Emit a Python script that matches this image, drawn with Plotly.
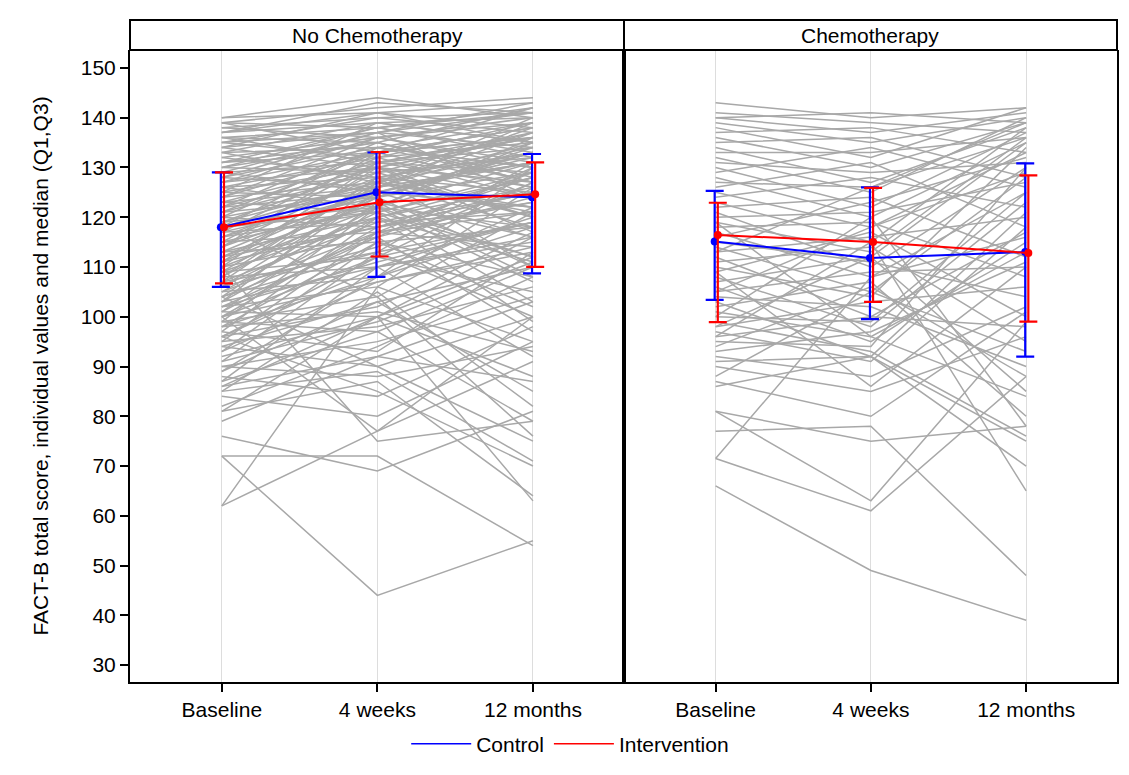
import plotly.graph_objects as go

timepoints = ["Baseline", "4 weeks", "12 months"]
panels = ["No Chemotherapy", "Chemotherapy"]

# ---- individual values, No Chemotherapy ----
nc_baseline = [
 140,140,139,139,138,138,137,137,136,136,
 135,135,134,134,133,133,132,132,131,131,
 130,130,129,129,128,128,127,127,126,126,
 125,125,124,124,123,123,122,122,121,121,
 120,120,119,119,118,118,117,117,116,116,
 115,115,114,114,113,113,112,112,111,111,
 110,110,109,109,108,108,107,107,106,106,
 105,105,104,104,103,103,102,102,101,101,
 100,100,99,99,98,98,97,97,96,96,
 95,95,94,93,92,91,90,90,89,88,
 87,87,86,85,85,84,82,81,79,76,
 72,72,62,62,81,139,137,136,135,134,
 133,131,130,129,128,127,126,125,124,123,
 122,121,120,119,118,117,116,115,114,113,
 112,111,110,109,108,107,106,105,104,103,
 102,101,100,99,98,96,94,93,91,89,
 86,110,100,96,118,104]
nc_week4 = [
 144,141,142,138,140,136,141,139,135,138,
 140,132,137,130,139,134,136,128,138,133,
 135,129,137,131,134,126,136,130,132,128,
 139,124,133,127,131,121,135,125,129,133,
 126,118,130,122,127,134,124,119,128,121,
 131,117,125,129,120,115,126,123,118,130,
 122,116,127,112,124,110,119,128,114,121,
 117,108,125,113,110,120,106,116,123,100,
 112,118,104,97,115,108,93,120,102,110,
 98,117,90,107,100,113,95,88,103,84,
 97,110,92,89,105,80,94,87,92,69,
 72,44,77,106,100,133,143,131,137,141,
 127,135,138,125,137,133,122,130,136,126,
 130,124,134,127,121,132,125,122,133,126,
 118,124,131,120,128,113,125,122,116,127,
 111,117,107,122,101,112,103,115,99,108,
 100,75,77,85,104,90]
nc_month12 = [
 140,143,144,142,141,139,138,140,142,133,
 137,139,141,136,135,130,140,134,132,138,
 128,137,134,126,139,131,130,136,124,133,
 135,129,138,122,134,128,127,132,120,136,
 131,125,127,135,118,130,133,121,125,129,
 137,114,122,132,126,118,135,116,128,124,
 112,130,121,119,134,115,125,110,127,103,
 123,118,131,100,120,111,126,97,108,116,
 105,125,121,110,102,130,113,99,117,92,
 106,121,100,114,88,119,104,94,110,98,
 79,116,103,71,82,95,108,64,87,81,
 54,55,100,95,63,136,141,129,143,135,
 138,127,141,133,124,142,136,120,131,139,
 117,133,127,140,112,135,122,131,126,137,
 123,110,136,128,120,131,116,107,124,133,
 119,129,113,118,93,127,85,108,111,122,
 112,79,91,70,76,75]

# ---- individual values, Chemotherapy ----
ch_baseline = [
 143,141,140,140,139,138,137,136,135,134,
 133,132,131,130,129,128,127,126,125,124,
 123,122,121,120,119,118,117,116,115,114,
 113,112,111,110,109,108,107,106,105,104,
 103,102,101,100,99,98,97,96,95,94,
 93,92,91,90,88,87,86,81,81,77,
 71.5,71.5,66,96,109,100,119,113,105,98]
ch_week4 = [
 140,139,141,137,135,132,138,130,136,127,
 133,125,129,122,134,120,126,131,118,128,
 115,124,110,121,113,119,108,123,111,105,
 116,100,114,104,117,98,112,95,109,102,
 92,107,96,99,93,103,91,100,94,106,
 97,88,92,85,105,80,92,63,75,78,
 61,108,49,115,86,120,96,126,118,112]
ch_month12 = [
 142,137,139,141,140,142,133,139,128,138,
 136,140,131,137,126,135,139,118,133,122,
 138,112,130,127,136,108,125,132,104,128,
 120,117,95,134,100,123,85,115,110,90,
 121,80,113,125,76,106,118,98,130,88,
 111,102,75,96,93,101,70,99,78,48,
 88,116,39,65,110,78,84,136,129,135]

# ---- medians and quartiles ----
nc_ctrl_med = [118.0, 125.0, 124.0]
nc_ctrl_q1 = [106.0, 108.0, 108.7]
nc_ctrl_q3 = [129.0, 133.0, 132.7]
nc_int_med = [118.0, 123.0, 124.6]
nc_int_q1 = [106.7, 112.1, 110.0]
nc_int_q3 = [129.0, 133.1, 131.0]

ch_ctrl_med = [115.1, 111.8, 113.0]
ch_ctrl_q1 = [103.4, 99.5, 92.0]
ch_ctrl_q3 = [125.3, 126.0, 130.8]
ch_int_med = [116.4, 115.0, 112.8]
ch_int_q1 = [98.9, 103.0, 99.0]
ch_int_q3 = [122.9, 125.9, 128.4]

FONT = "Liberation Sans, Arial, sans-serif"
FS = 21
GRAY = "#A8A8A8"
BLUE = "#0000FF"
RED = "#FF0000"
pos = list(range(len(timepoints)))

fig = go.Figure()


def spaghetti(b, w, m, xa, ya):
    xs, ys = [], []
    for vals in zip(b, w, m):
        xs += pos + [None]
        ys += list(vals) + [None]
    fig.add_trace(go.Scatter(x=xs, y=ys, mode="lines", xaxis=xa, yaxis=ya,
                             line=dict(color=GRAY, width=1.5),
                             hoverinfo="skip", showlegend=False))


def median_trace(med, q1, q3, color, shift, xa, ya):
    fig.add_trace(go.Scatter(
        x=[p + shift for p in pos], y=med, mode="lines+markers",
        xaxis=xa, yaxis=ya, showlegend=False,
        line=dict(color=color, width=2), marker=dict(color=color, size=8),
        error_y=dict(type="data", symmetric=False,
                     array=[h - c for h, c in zip(q3, med)],
                     arrayminus=[c - l for c, l in zip(med, q1)],
                     color=color, thickness=2.2, width=9)))


spaghetti(nc_baseline, nc_week4, nc_month12, "x", "y")
spaghetti(ch_baseline, ch_week4, ch_month12, "x2", "y2")
median_trace(nc_ctrl_med, nc_ctrl_q1, nc_ctrl_q3, BLUE, -0.006, "x", "y")
median_trace(nc_int_med, nc_int_q1, nc_int_q3, RED, 0.014, "x", "y")
median_trace(ch_ctrl_med, ch_ctrl_q1, ch_ctrl_q3, BLUE, -0.006, "x2", "y2")
median_trace(ch_int_med, ch_int_q1, ch_int_q3, RED, 0.014, "x2", "y2")

# legend entries
fig.add_trace(go.Scatter(x=[None], y=[None], mode="lines", name="Control",
                         line=dict(color=BLUE, width=1.5)))
fig.add_trace(go.Scatter(x=[None], y=[None], mode="lines", name="Intervention",
                         line=dict(color=RED, width=1.5)))

split = 494 / 987
xcommon = dict(tickmode="array", tickvals=pos, ticktext=timepoints,
               range=[-0.59, 2.585], showgrid=True, gridcolor="#DDDDDD",
               gridwidth=1, zeroline=False, ticks="outside", ticklen=8,
               tickcolor="black", tickwidth=1.5, showline=True,
               linecolor="black", linewidth=2, mirror=False,
               tickfont=dict(size=FS, color="black", family=FONT))
ycommon = dict(range=[26.6, 153.6], tickmode="array",
               tickvals=list(range(30, 151, 10)), showgrid=False,
               zeroline=False, showline=True, linecolor="black",
               linewidth=2, mirror=True)

fig.update_layout(
    width=1121, height=767,
    margin=dict(l=122, r=12, t=42, b=93, autoexpand=False),
    paper_bgcolor="white", plot_bgcolor="white",
    font=dict(family=FONT, size=FS, color="black"),
    xaxis=dict(domain=[0, split], anchor="y", **xcommon),
    xaxis2=dict(domain=[split, 1], anchor="y2", **xcommon),
    yaxis=dict(anchor="x", ticks="outside", ticklen=8, tickcolor="black",
               tickwidth=1.5, tickfont=dict(size=FS, color="black"),
               title=dict(text="FACT-B total score, individual values and median (Q1,Q3)",
                          font=dict(size=FS, color="black"), standoff=26),
               **ycommon),
    yaxis2=dict(anchor="x2", matches="y", showticklabels=False, ticks="",
                **ycommon),
    legend=dict(orientation="h", x=0.446, xanchor="center", y=-0.066,
                yanchor="top", font=dict(size=FS, color="black"),
                itemwidth=60, bgcolor="rgba(0,0,0,0)"),
    showlegend=True,
)

strip_top = 1 + 30 / 632
for i, name in enumerate(panels):
    x0 = 0 if i == 0 else split
    x1 = split if i == 0 else 1
    fig.add_shape(type="rect", xref="paper", yref="paper", x0=x0, x1=x1,
                  y0=1, y1=strip_top, line=dict(color="black", width=2),
                  fillcolor="white")
    fig.add_annotation(text=name, xref="paper", yref="paper",
                       x=(x0 + x1) / 2, y=(1 + strip_top) / 2,
                       xanchor="center", yanchor="middle",
                       showarrow=False, font=dict(size=FS, color="black"))

fig.write_html("out.html")
